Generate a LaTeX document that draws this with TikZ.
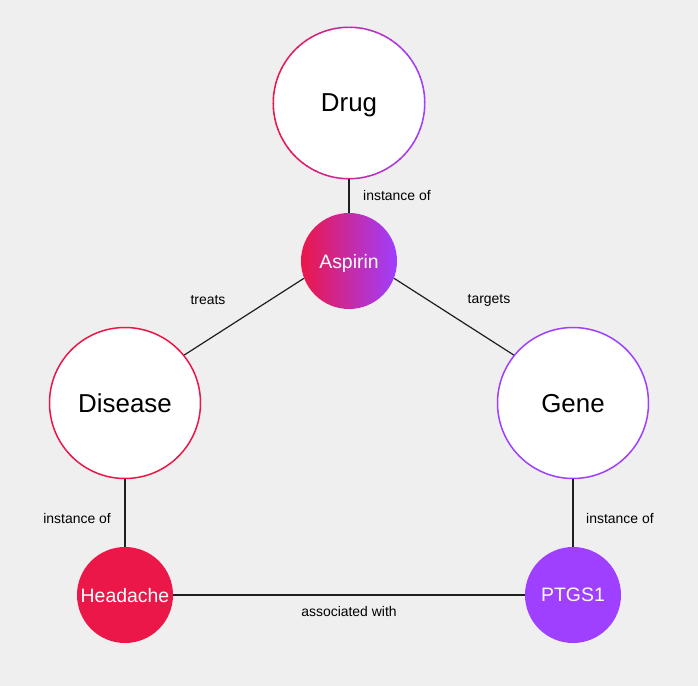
\documentclass[tikz,border=0pt]{standalone}
\usepackage{fontspec}
\setmainfont{Liberation Sans}
\usetikzlibrary{positioning}
\definecolor{kgred}{HTML}{EB1749}
\definecolor{kgpurple}{HTML}{9F3FFF}
\definecolor{kgbg}{HTML}{EFEFEF}
\definecolor{kgline}{HTML}{1E1E1E}

\begin{document}
\begin{tikzpicture}[x=1bp, y=-1bp,
    class/.style={circle, inner sep=0, minimum size=151bp, fill=white, line width=1.5bp, text depth=0pt, font=\fontsize{26}{30}\selectfont},
    instance/.style={circle, inner sep=0, minimum size=96bp, text=white, text depth=0pt, font=\fontsize{19.5}{23}\selectfont},
    rel/.style={inner sep=0, font=\fontsize{14}{17}\selectfont},
    link/.style={draw=kgline, line width=1.2bp}]
    \fill[kgbg] (0,0) rectangle (698,686);
    \useasboundingbox (0,0) rectangle (698,686);

    % classes
    \node (drug) at (349,103) [class] {Drug};
    % ring of the drug node, red on the left to purple on the right
    \foreach \a in {0,4,...,356}{
        \pgfmathsetmacro\mix{50+50*cos(\a+2)}
        \draw[kgpurple!\mix!kgred, line width=1.5bp]
            ([shift={(\a:75.75bp)}]drug.center) arc[start angle=\a, end angle=\a+4.6, radius=75.75bp];
    }
    \node (disease) at (125,403) [class, draw=kgred] {Disease};
    \node (gene) at (573,403) [class, draw=kgpurple] {Gene};

    % instances
    \node (aspirin) at (349,261) [instance, left color=kgred, right color=kgpurple] {Aspirin};
    \node (headache) at (125,595) [instance, fill=kgred] {Headache};
    \node (ptgs) at (573,595) [instance, fill=kgpurple] {PTGS1};

    \draw[link] (drug) -- (aspirin);
    \draw[link] (aspirin.201) -- (disease.39);
    \draw[link] (aspirin.339) -- (gene.141);
    \draw[link] (disease) -- (headache);
    \draw[link] (gene) -- (ptgs);
    \draw[link] (headache) -- (ptgs);

    % relation labels
    \node (lbldrug) at (363,196) [rel, anchor=west] {instance of};
    \node (lbltreats) at (208,300) [rel] {treats};
    \node (lbltargets) at (489,300) [rel] {targets};
    \node (lbldisease) at (111,519) [rel, anchor=east] {instance of};
    \node (lblgene) at (586,519) [rel, anchor=west] {instance of};
    \node (lblassoc) at (349,612) [rel] {associated with};
\end{tikzpicture}
\end{document}
